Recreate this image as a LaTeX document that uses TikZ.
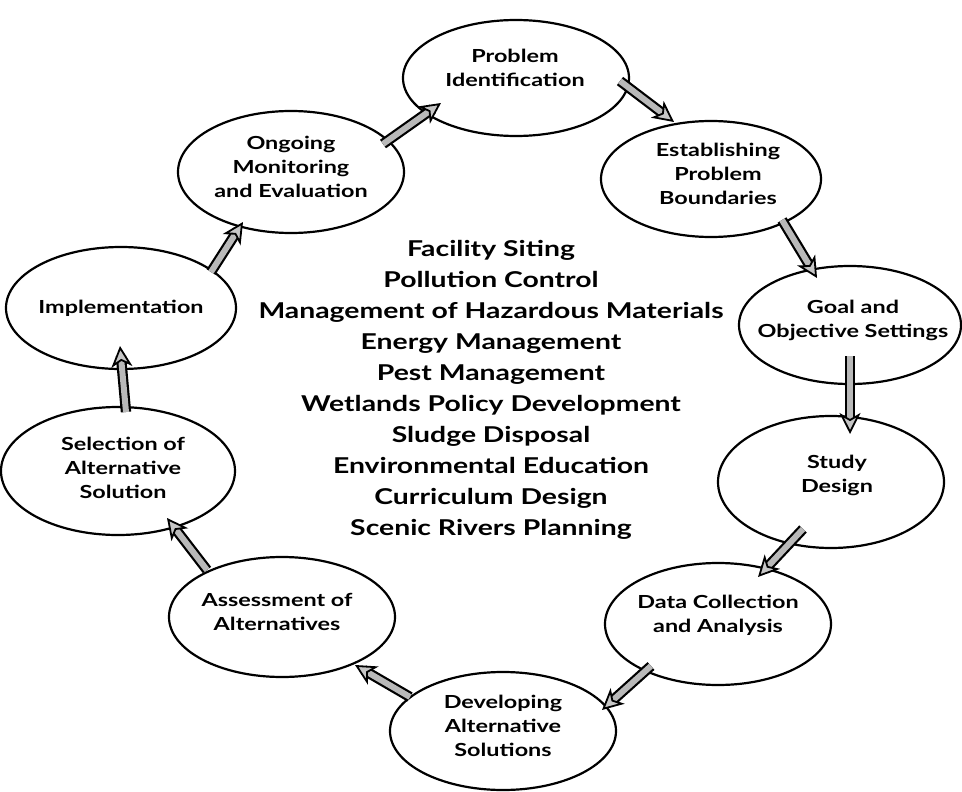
\documentclass[tikz,border=0pt]{standalone}
\usepackage{fontspec}
\setmainfont{Lato}[FakeStretch=1.3]
\usetikzlibrary{shapes.geometric,arrows.meta,calc}
\begin{document}
\begin{tikzpicture}[x=1pt,y=-1pt,
  stage/.style={draw, line width=2.2pt, ellipse, inner sep=0pt},
  lbl/.style={align=center, inner sep=0pt, font=\fontsize{18}{24}\selectfont\bfseries},
  topics/.style={align=center, inner sep=0pt, font=\fontsize{21.8}{31}\selectfont\bfseries},
  shaft/.style={line width=2.2pt, double=gray!55, double distance=6pt, shorten >=10pt},
  head/.style={draw=gray!55, line width=0.2pt, -{Stealth[length=21pt,width=21pt,inset=6pt,color=black,fill=gray!45,line width=1.8pt]}}]
\useasboundingbox (0,0) rectangle (962,792);
\newcommand\blockarrow[2]{%
  \draw[shaft] (#1) -- (#2);
  \draw[head] ($(#1)!0.55!(#2)$) -- (#2);}
% stages
\node[stage, minimum width=226pt, minimum height=116pt] (pid) at (516,78) {};
\node[stage, minimum width=220pt, minimum height=116pt] (est) at (711,179) {};
\node[stage, minimum width=222pt, minimum height=118pt] (goal) at (850,325) {};
\node[stage, minimum width=226pt, minimum height=132pt] (study) at (831,482) {};
\node[stage, minimum width=226pt, minimum height=122pt] (data) at (718,624) {};
\node[stage, minimum width=226pt, minimum height=118pt] (dev) at (503,731) {};
\node[stage, minimum width=226pt, minimum height=120pt] (assess) at (282,617) {};
\node[stage, minimum width=234pt, minimum height=128pt] (sel) at (118,471) {};
\node[stage, minimum width=230pt, minimum height=122pt] (impl) at (121,308) {};
\node[stage, minimum width=226pt, minimum height=122pt] (ong) at (291,172) {};
% labels
\node[lbl] (tpid) at (515,68) {Problem\\Identification};
\node[lbl] (test) at (718,174) {Establishing\\Problem\\Boundaries};
\node[lbl] (tgoal) at (853,320) {Goal and\\Objective Settings};
\node[lbl] (tstudy) at (837,475) {Study\\Design};
\node[lbl] (tdata) at (718,615) {Data Collection\\and Analysis};
\node[lbl] (tdev) at (503,726) {Developing\\Alternative\\Solutions};
\node[lbl] (tassess) at (277,612) {Assessment of\\Alternatives};
\node[lbl] (tsel) at (123,468) {Selection of\\Alternative\\Solution};
\node[lbl] (timpl) at (121,308) {Implementation};
\node[lbl] (tong) at (291,167) {Ongoing\\Monitoring\\and Evaluation};
% centre list
\node[topics] (list) at (491,390) {Facility Siting\\Pollution Control\\Management of Hazardous Materials\\Energy Management\\Pest Management\\Wetlands Policy Development\\Sludge Disposal\\Environmental Education\\Curriculum Design\\Scenic Rivers Planning};
% arrows
\blockarrow{$(ong)+(92,-28)$}{$(pid)+(-75,25)$}
\blockarrow{$(pid)+(104,3)$}{$(est)+(-37,-57)$}
\blockarrow{$(est)+(71,41)$}{$(goal)+(-33,-47)$}
\blockarrow{$(goal)+(0,31)$}{$(study)+(19,-48)$}
\blockarrow{$(study)+(-28,47)$}{$(data)+(40,-47)$}
\blockarrow{$(data)+(-67,42)$}{$(dev)+(99,-21)$}
\blockarrow{$(dev)+(-93,-34)$}{$(assess)+(73,48)$}
\blockarrow{$(assess)+(-75,-47)$}{$(sel)+(49,47)$}
\blockarrow{$(sel)+(8,-59)$}{$(impl)+(-1,38)$}
\blockarrow{$(impl)+(90,-36)$}{$(ong)+(-48,50)$}
\end{tikzpicture}
\end{document}
